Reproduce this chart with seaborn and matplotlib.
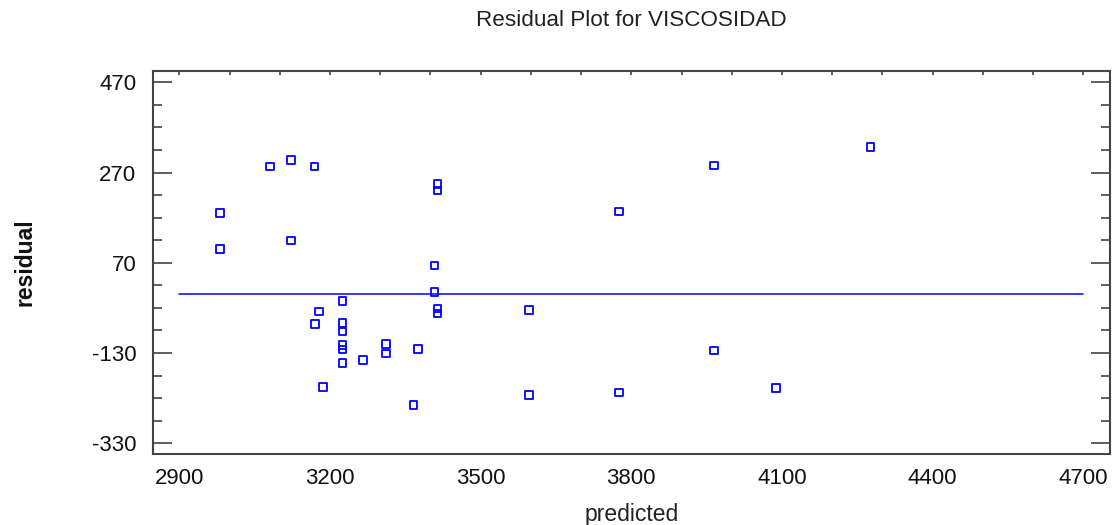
import matplotlib
matplotlib.use("Agg")
import matplotlib.pyplot as plt
from matplotlib.ticker import MultipleLocator, FixedLocator
import seaborn as sns
import pandas as pd

predicted = [2981, 2981, 3081, 3122, 3169, 3122,
             3225, 3178, 3170, 3225, 3225, 3225, 3225, 3225, 3266, 3311, 3311, 3186,
             3414, 3414, 3776, 3408, 3408, 3414, 3414, 3596, 3375, 3366, 3596, 3776,
             3965, 4276, 3965, 4088]
residual = [181, 101, 283, 298, 283, 119,
            -14, -38, -66, -63, -82, -112, -122, -152, -146, -110, -131, -205,
            244, 230, 184, 64, 5, -31, -42, -35, -121, -245, -223, -217,
            286, 326, -124, -208]
zero_x = [2900, 4700]
zero_y = [0, 0]

title = "Residual Plot for VISCOSIDAD"
xlabel = "predicted"
ylabel = "residual"
xticks = [2900, 3200, 3500, 3800, 4100, 4400, 4700]
yticks = [-330, -130, 70, 270, 470]

df = pd.DataFrame({"predicted": predicted, "residual": residual})

sns.set_theme(style="white")
plt.rcParams["font.family"] = ["Liberation Sans", "DejaVu Sans"]
plt.rcParams["axes.unicode_minus"] = False

fig = plt.figure(figsize=(11.13, 5.25), dpi=100)
ax = fig.add_axes([153/1113, 1 - 454/525, (1110 - 153)/1113, (454 - 71)/525])

sns.scatterplot(data=df, x="predicted", y="residual", ax=ax, marker="s",
                s=30, facecolor="none", edgecolor="#0000ff", linewidth=1.3, zorder=3)
sns.lineplot(x=zero_x, y=zero_y, ax=ax, color="#0000ff", linewidth=1.1, zorder=2)

ax.set_xlim(2847.6, 4753)
ax.set_ylim(-353.7, 495)
ax.set_xticks(xticks)
ax.set_yticks(yticks)
ax.xaxis.set_minor_locator(MultipleLocator(100))
ax.yaxis.set_minor_locator(FixedLocator([v for v in range(-330, 471, 50)]))

ax.tick_params(axis="x", which="major", direction="in", length=5.2, width=1.1,
               color="#333333", labelsize=16, pad=10, labelcolor="#111111")
ax.tick_params(axis="x", which="minor", direction="in", length=3.3, width=1.1, color="#333333")
ax.tick_params(axis="y", which="major", direction="in", length=13.5, width=1.1,
               color="#333333", labelsize=16, pad=12, labelcolor="#111111",
               left=True, right=True)
ax.tick_params(axis="y", which="minor", direction="in", length=6.5, width=1.1,
               color="#333333", left=True, right=True)

sec = ax.secondary_xaxis("top")
sec.set_xticks(list(range(2900, 4701, 100)))
sec.tick_params(axis="x", which="major", direction="in", length=3, width=1.1,
                color="#333333", labeltop=False)
sec.spines["top"].set_visible(False)

for sp in ax.spines.values():
    sp.set_visible(True)
    sp.set_color("#444444")
    sp.set_linewidth(1.5)

ax.set_xlabel(xlabel, fontsize=16.5, color="#222222", labelpad=10)
ax.set_ylabel(ylabel, fontsize=16.5, fontweight="bold", color="#111111", labelpad=40)
fig.text((153 + 1110) / 2 / 1113, 1 - 20/525, title, ha="center", va="center",
         fontsize=16.2, color="#222222")

fig.savefig("out.png", dpi=100, facecolor="white")
